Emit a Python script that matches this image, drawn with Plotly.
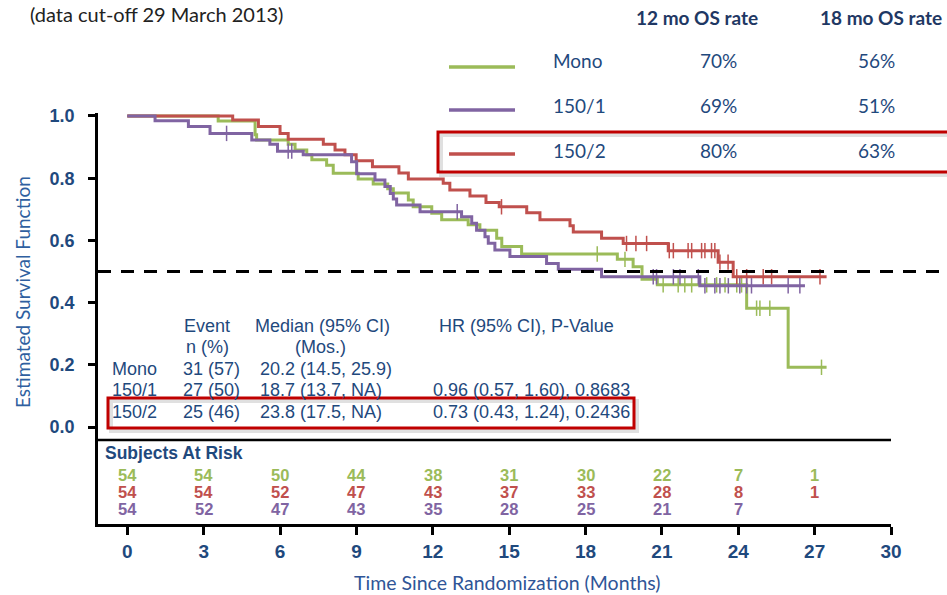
import numpy as np
import plotly.graph_objects as go

# ---------------- data ----------------
arms = ["Mono", "150/1", "150/2"]
colors = {"Mono": "#9BBB59", "150/1": "#8064A2", "150/2": "#C0504D"}

# Kaplan-Meier step data (months, survival after each event)
mono_t = [0, 3.57, 5.02, 5.08, 6.32, 6.59, 7.05, 7.25, 7.83, 8.09, 9.07, 9.66, 10.23, 10.45,
          11.04, 11.23, 11.96, 12.35, 13.39, 13.85, 14.51, 14.71, 15.49, 19.25, 19.87, 20.22,
          20.82, 24.33, 25.96]
mono_s = [1.0, 0.984, 0.94, 0.923, 0.909, 0.891, 0.875, 0.859, 0.842, 0.816, 0.797, 0.781, 0.766,
          0.752, 0.730, 0.708, 0.687, 0.666, 0.650, 0.633, 0.607, 0.580, 0.556, 0.539, 0.515,
          0.475, 0.457, 0.382, 0.192]
mono_end = 27.47
mono_cens = [18.46, 19.55, 21.05, 21.64, 21.90, 22.17, 22.76, 23.15, 23.48, 23.94, 24.13,
             24.72, 24.85, 25.24, 27.27]

r1_t = [0, 1.09, 2.40, 3.25, 4.89, 5.60, 5.90, 6.91, 8.81, 9.01, 9.73, 10.12, 10.33, 10.45,
        10.58, 11.50, 13.13, 13.53, 13.72, 14.05, 14.18, 14.44, 15.03, 16.47, 16.93, 18.63, 22.49]
r1_s = [1.0, 0.985, 0.966, 0.944, 0.923, 0.909, 0.887, 0.875, 0.853, 0.814, 0.794, 0.773, 0.751,
        0.733, 0.714, 0.692, 0.676, 0.655, 0.633, 0.612, 0.591, 0.569, 0.548, 0.526, 0.507,
        0.483, 0.454]
r1_end = 26.62
r1_cens = [3.90, 6.32, 6.46, 12.96, 20.66, 20.79, 21.45, 21.71, 22.43, 22.69, 23.08, 23.28,
           23.61, 24.06, 24.33, 24.52, 25.96, 26.42]

r2_t = [0, 4.14, 5.15, 6.0, 6.32, 7.70, 8.16, 8.55, 8.99, 9.63, 10.67, 11.04, 12.41, 12.67,
        13.46, 14.09, 14.61, 15.69, 16.21, 17.39, 17.52, 18.63, 19.48, 21.25, 23.21, 23.80]
r2_s = [1.0, 0.987, 0.966, 0.944, 0.925, 0.909, 0.891, 0.875, 0.856, 0.837, 0.817, 0.797, 0.784,
        0.762, 0.743, 0.722, 0.708, 0.689, 0.666, 0.647, 0.627, 0.607, 0.590, 0.567, 0.530,
        0.483]
r2_end = 27.47
r2_cens = [14.70, 19.61, 19.98, 20.40, 21.29, 21.45, 22.03, 22.17, 22.56, 22.69, 22.95, 23.08,
           23.28, 23.60, 23.94, 24.33, 24.98, 25.31, 27.21]

curves = {
    "Mono": (mono_t, mono_s, mono_end, mono_cens),
    "150/2": (r2_t, r2_s, r2_end, r2_cens),
    "150/1": (r1_t, r1_s, r1_end, r1_cens),
}

# legend table
os12 = ["70%", "69%", "80%"]
os18 = ["56%", "51%", "63%"]

# statistics table
events = ["31 (57)", "27 (50)", "25 (46)"]
medians = ["20.2 (14.5, 25.9)", "18.7 (13.7, NA)", "23.8 (17.5, NA)"]
hrs = ["", "0.96 (0.57, 1.60), 0.8683", "0.73 (0.43, 1.24), 0.2436"]

# subjects at risk
risk_months = [0, 3, 6, 9, 12, 15, 18, 21, 24, 27]
risk = {
    "Mono": [54, 54, 50, 44, 38, 31, 30, 22, 7, 1],
    "150/2": [54, 54, 52, 47, 43, 37, 33, 28, 8, 1],
    "150/1": [54, 52, 47, 43, 35, 28, 25, 21, 7, None],
}
risk_order = ["Mono", "150/2", "150/1"]

x_ticks = list(range(0, 31, 3))
y_ticks = [0.0, 0.2, 0.4, 0.6, 0.8, 1.0]
median_line = 0.5

# ---------------- layout geometry ----------------
W_FIG, H_FIG = 947, 595
L, R, T, B = 98, 56, 113, 71
PW, PH = W_FIG - L - R, H_FIG - T - B
X_RANGE = [-1.151, 30]
Y_RANGE = [-0.3119, 1.0096]


def fx(px):
    return (px - L) / PW


def fy(py):
    return (T + PH - py) / PH


def y_to_paper(v):
    return (v - Y_RANGE[0]) / (Y_RANGE[1] - Y_RANGE[0])


NARROW = "Liberation Sans Narrow, Arial Narrow, Liberation Sans, sans-serif"
ARIAL = "Liberation Sans, Arial, sans-serif"
CAL = "Lato, Carlito, Calibri, sans-serif"
BLUE = "#1F497D"
NAVY = "#1F3864"
RED_BOX = "#C00000"

fig = go.Figure()

for arm in ["Mono", "150/2", "150/1"]:
    t, s, end, cens = curves[arm]
    xs = list(t) + [end]
    ys = list(s) + [s[-1]]
    fig.add_trace(go.Scatter(x=xs, y=ys, mode="lines", line=dict(color=colors[arm], width=3, shape="hv"),
                             showlegend=False, hoverinfo="skip"))
    idx = np.searchsorted(np.array(t), np.array(cens), side="right") - 1
    cy = [s[i] for i in idx]
    fig.add_trace(go.Scatter(x=cens, y=cy, mode="markers",
                             marker=dict(symbol="line-ns", size=11, line=dict(color=colors[arm], width=1.5)),
                             showlegend=False, hoverinfo="skip"))

shapes = []
# median dashed line (extends to the page edge)
shapes.append(dict(type="line", xref="paper", yref="paper", x0=0, x1=fx(W_FIG + 5),
                   y0=y_to_paper(median_line), y1=y_to_paper(median_line),
                   line=dict(color="black", width=3, dash="13px,10px")))
# top border of at-risk box
shapes.append(dict(type="line", xref="paper", yref="paper", x0=0, x1=1, y0=fy(440), y1=fy(440),
                   line=dict(color="black", width=2.5)))

# red highlight boxes with soft shadow
for (x0, y0, x1, y1) in [(438, 132, 955, 172), (108, 398, 634, 428)]:
    shapes.append(dict(type="rect", xref="paper", yref="paper", x0=fx(x0 + 3), x1=fx(x1 + 3),
                       y0=fy(y1 + 3), y1=fy(y0 + 3), line=dict(color="rgba(0,0,0,0.12)", width=4)))
    shapes.append(dict(type="rect", xref="paper", yref="paper", x0=fx(x0), x1=fx(x1),
                       y0=fy(y1), y1=fy(y0), line=dict(color=RED_BOX, width=3)))

# legend line samples
leg_y_line = [67, 110, 154]
for arm, ly in zip(arms, leg_y_line):
    shapes.append(dict(type="line", xref="paper", yref="paper", x0=fx(449), x1=fx(515),
                       y0=fy(ly), y1=fy(ly), line=dict(color=colors[arm], width=3.5)))

ann = []


def text(x, y, s, size=18, color=BLUE, family=ARIAL, anchor="center", weight="normal", **kw):
    ann.append(dict(x=fx(x), y=fy(y), xref="paper", yref="paper", text=s, showarrow=False,
                    xanchor=anchor, yanchor="middle",
                    font=dict(size=size, color=color, family=family, weight=weight), **kw))


# title fragment
text(28, 14, "(data cut-off 29 March 2013)", size=20, color="#222222", family=CAL, anchor="left")

# legend table
text(697, 17, "12 mo OS rate", size=19, color=NAVY, family=CAL, weight="bold")
text(944, 17, "18 mo OS rate", size=19, color=NAVY, family=CAL, anchor="right", weight="bold")
leg_y_text = [61, 105, 150]
for i, arm in enumerate(arms):
    text(551, leg_y_text[i], arm, size=19, color=BLUE, family=CAL, anchor="left")
    text(718, leg_y_text[i], os12[i], size=19, color=BLUE, family=CAL)
    text(876, leg_y_text[i], os18[i], size=19, color=BLUE, family=CAL)

# stats table
text(207, 326, "Event")
text(207, 347, "n (%)")
text(322, 326, "Median (95% CI)")
text(320, 347, "(Mos.)")
text(526, 326, "HR (95% CI), P-Value")
row_y = [369, 390, 412]
for i, arm in enumerate(arms):
    text(110, row_y[i], arm, anchor="left")
    text(181, row_y[i], events[i], anchor="left")
    text(258, row_y[i], medians[i], anchor="left")
    if hrs[i]:
        text(431, row_y[i], hrs[i], anchor="left")

# subjects at risk
text(103, 453, "Subjects At Risk", size=17.5, color=BLUE, family=NARROW, anchor="left", weight="bold")
risk_y = {"Mono": 475, "150/2": 492, "150/1": 509}
for arm in risk_order:
    for m, n in zip(risk_months, risk[arm]):
        if n is None:
            continue
        ann.append(dict(x=m, y=fy(risk_y[arm]), xref="x", yref="paper", text=str(n), showarrow=False,
                        xanchor="center", yanchor="middle",
                        font=dict(size=16.5, color=colors[arm], family=NARROW, weight="bold")))

# axis titles
text(507, 582, "Time Since Randomization (Months)", size=19.5, color="#2F5597", family=CAL)
ann.append(dict(x=fx(22), y=fy(292), xref="paper", yref="paper", text="Estimated Survival Function",
                showarrow=False, textangle=-90, xanchor="center", yanchor="middle",
                font=dict(size=19, color="#2F5FA0", family=CAL)))

fig.update_layout(
    width=W_FIG, height=H_FIG,
    margin=dict(l=L, r=R, t=T, b=B, pad=0),
    paper_bgcolor="white", plot_bgcolor="white",
    shapes=shapes, annotations=ann,
    xaxis=dict(range=X_RANGE, tickvals=x_ticks, showgrid=False, zeroline=False,
               showline=True, linecolor="black", linewidth=2.5,
               ticks="outside", ticklen=8, tickwidth=2.5, tickcolor="black",
               tickfont=dict(size=19, color=BLUE, family=NARROW, weight="bold")),
    yaxis=dict(range=Y_RANGE, tickvals=y_ticks, ticktext=[f"{v:.1f}" for v in y_ticks],
               showgrid=False, zeroline=False, showline=True, linecolor="black", linewidth=2.5,
               ticks="outside", ticklen=7, tickwidth=2.5, tickcolor="black", ticklabelstandoff=10,
               tickfont=dict(size=18, color=BLUE, family=ARIAL, weight="bold")),
)

fig.write_html("out.html", config={"displayModeBar": False},
               post_script="document.body.style.margin='0px';")
